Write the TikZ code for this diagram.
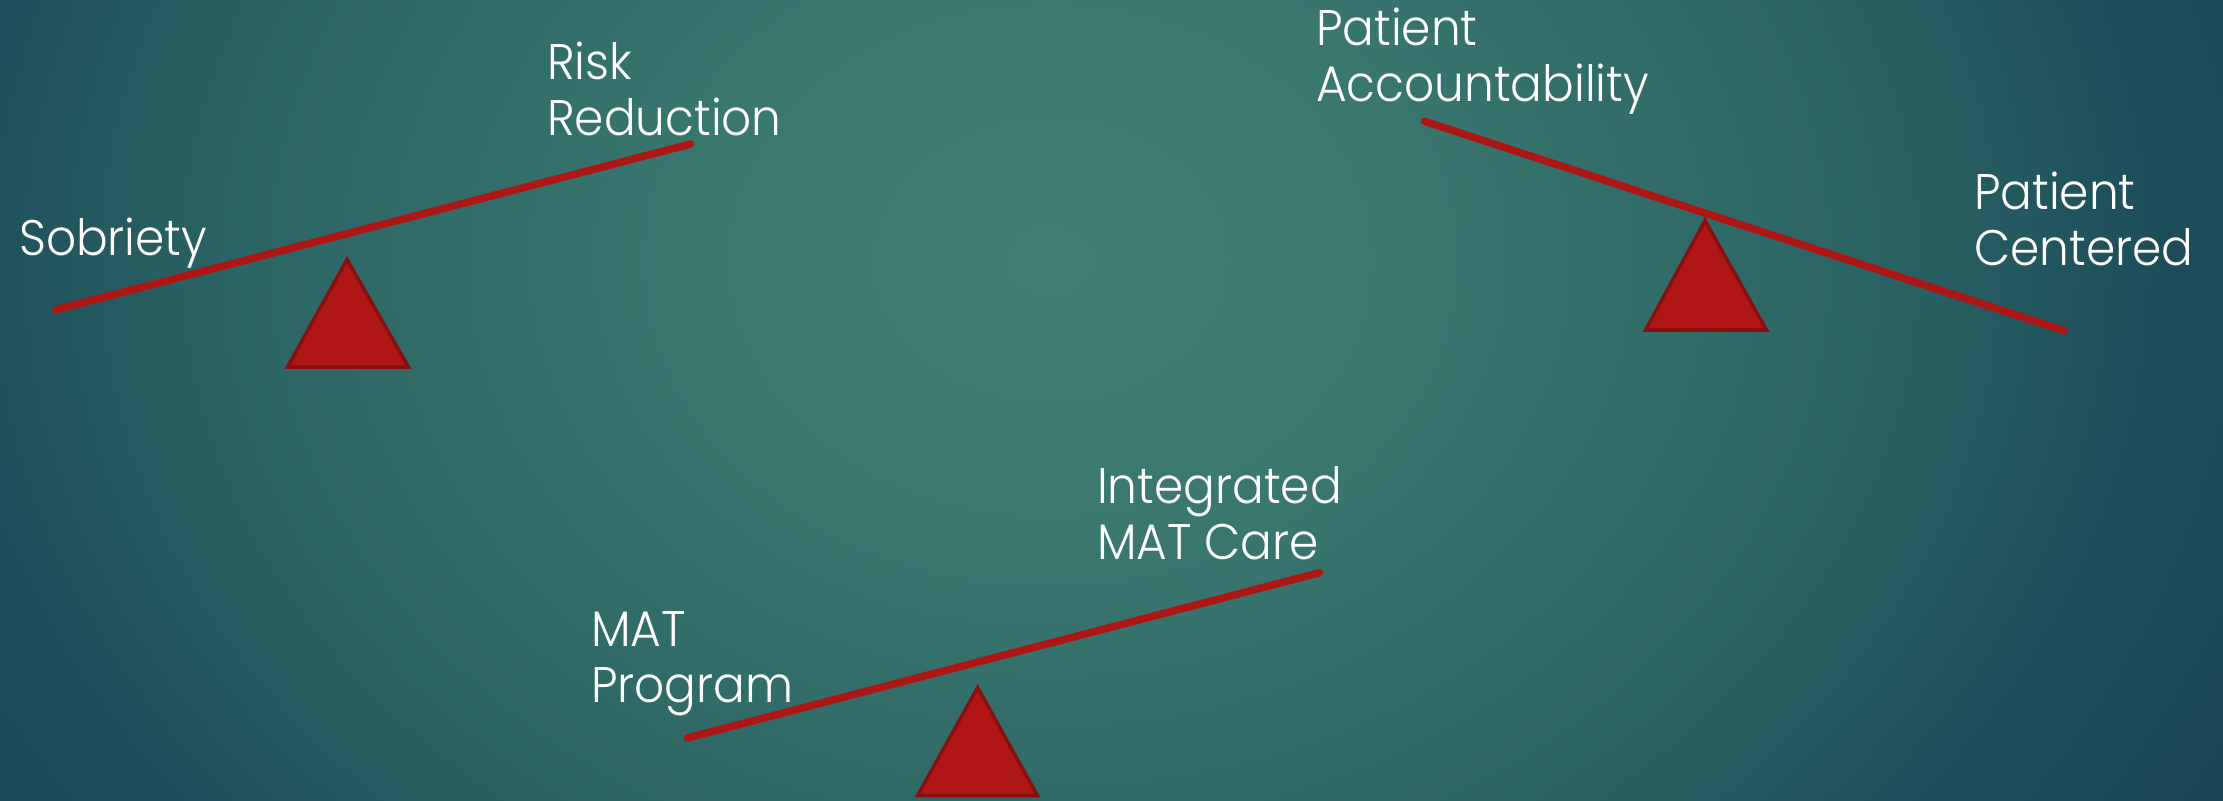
\documentclass[tikz,border=0pt]{standalone}
\usepackage{fontspec}
\newfontfamily\labelfont{Poppins Light}[FakeStretch=0.94]
\definecolor{bgcenter}{HTML}{3F7F73}
\definecolor{bgmid}{HTML}{3A786F}
\definecolor{bgouter}{HTML}{2B6464}
\definecolor{bgdark}{HTML}{1E4E5A}
\definecolor{bgedge}{HTML}{184151}
\definecolor{beamred}{HTML}{AE1616}
\definecolor{pivotred}{HTML}{B01616}
\definecolor{pivotedge}{HTML}{861010}
% the shaded rectangle is mapped onto the inner 25bp of the shading
\pgfdeclareradialshading{slidebg}{\pgfpoint{0bp}{0bp}}{%
  color(0bp)=(bgcenter); color(6bp)=(bgmid); color(14bp)=(bgouter);
  color(19bp)=(bgdark); color(25bp)=(bgedge); color(50bp)=(bgedge)}
\tikzset{
  beam/.style={draw=beamred, line width=7.5pt, line cap=round},
  pivot/.style={fill=pivotred, draw=pivotedge, line width=3.5pt, line join=miter},
  label/.style={font=\labelfont\fontsize{50}{56}\selectfont, text=white,
    align=left, inner sep=0pt, anchor=base west},
}
\begin{document}
\begin{tikzpicture}[x=1pt,y=-1pt]
  % slide background
  \useasboundingbox (0,0) rectangle (2223,800);
  \fill[bgedge] (0,0) rectangle (2223,800);
  \begin{scope}
    \clip (0,0) rectangle (2223,800);
    \shade[shading=slidebg] (-400,-900) rectangle (2500,1420);
  \end{scope}

  % balance 1: Sobriety vs Risk Reduction
  \coordinate (p1top) at (347,259.5);
  \coordinate (p1l) at (287.5,367);
  \coordinate (p1r) at (408.5,367);
  \draw[pivot] (p1top) -- (p1l) -- (p1r) -- cycle;
  \coordinate (b1l) at (56,309.7);
  \coordinate (b1r) at (690.5,144);
  \draw[beam] (b1l) -- (b1r);
  \node[label] (sobriety) at (19,255) {Sobriety};
  \node[label] (risk) at (547,135) {Risk\\Reduction};

  % balance 2: Patient Accountability vs Patient Centered
  \coordinate (p2top) at (1705,220.5);
  \coordinate (p2l) at (1645.5,330);
  \coordinate (p2r) at (1766.5,330);
  \draw[pivot] (p2top) -- (p2l) -- (p2r) -- cycle;
  \coordinate (b2l) at (1424.3,121.2);
  \coordinate (b2r) at (2064.5,330.8);
  \draw[beam] (b2l) -- (b2r);
  \node[label] (account) at (1316,101) {Patient\\Accountability};
  \node[label] (centered) at (1974,265) {Patient\\Centered};

  % balance 3: MAT Program vs Integrated MAT Care
  \coordinate (p3top) at (977.6,687.5);
  \coordinate (p3l) at (917.5,795.7);
  \coordinate (p3r) at (1037.5,795.7);
  \draw[pivot] (p3top) -- (p3l) -- (p3r) -- cycle;
  \coordinate (b3l) at (687.3,738);
  \coordinate (b3r) at (1319.5,572.7);
  \draw[beam] (b3l) -- (b3r);
  \node[label] (matprog) at (591,702) {MAT\\Program};
  \node[label] (integrated) at (1097,559) {Integrated\\MAT Care};
\end{tikzpicture}
\end{document}
